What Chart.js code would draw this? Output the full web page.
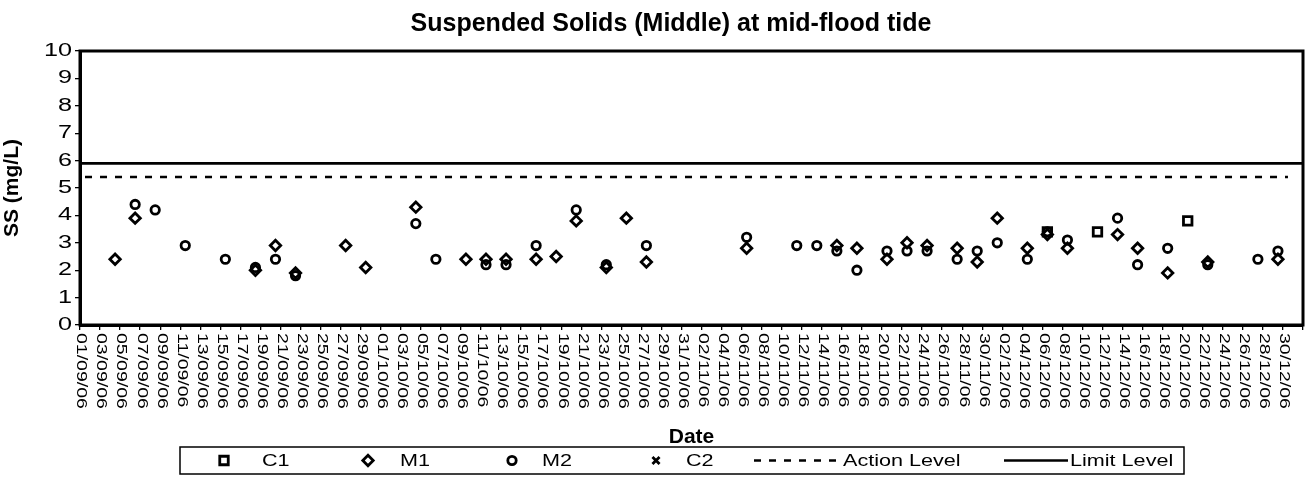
<!DOCTYPE html>
<html>
<head>
<meta charset="utf-8">
<title>Suspended Solids (Middle) at mid-flood tide</title>
<script src="https://cdn.jsdelivr.net/npm/chart.js@4.4.1/dist/chart.umd.min.js"></script>
<style>
    html, body { margin: 0; padding: 0; background: #fff; }
    #chart { display: block; }
</style>
</head>
<body>
<canvas id="chart" width="1314" height="500"></canvas>
<script>
"use strict";

var chartTitle = 'Suspended Solids (Middle) at mid-flood tide';

// sampling days, one reading per station (mg/L), null = no reading that day
var sampleDates = [
    '04/09/06', '06/09/06', '08/09/06', '11/09/06', '15/09/06', '18/09/06', '20/09/06', '22/09/06', '27/09/06', '29/09/06',
    '04/10/06', '06/10/06', '09/10/06', '11/10/06', '13/10/06', '16/10/06', '18/10/06', '20/10/06', '23/10/06', '25/10/06', '27/10/06',
    '06/11/06', '11/11/06', '13/11/06', '15/11/06', '17/11/06', '20/11/06', '22/11/06', '24/11/06', '27/11/06', '29/11/06',
    '01/12/06', '04/12/06', '06/12/06', '08/12/06', '11/12/06', '13/12/06', '15/12/06', '18/12/06', '20/12/06', '22/12/06', '27/12/06', '29/12/06'
];
var c1 = [
    null, null, null, null, null, null, null, null, null, null,
    null, null, null, null, null, null, null, null, null, null, null,
    null, null, null, null, null, null, null, null, null, null,
    null, null, 3.4, null, 3.4, null, null, null, 3.8, null, null, null
];
var m1 = [
    2.4, 3.9, null, null, null, 2.0, 2.9, 1.9, 2.9, 2.1,
    4.3, null, 2.4, 2.4, 2.4, 2.4, 2.5, 3.8, 2.1, 3.9, 2.3,
    2.8, null, null, 2.9, 2.8, 2.4, 3.0, 2.9, 2.8, 2.3,
    3.9, 2.8, 3.3, 2.8, null, 3.3, 2.8, 1.9, null, 2.3, null, 2.4
];
var m2 = [
    null, 4.4, 4.2, 2.9, 2.4, 2.1, 2.4, 1.8, null, null,
    3.7, 2.4, null, 2.2, 2.2, 2.9, null, 4.2, 2.2, null, 2.9,
    3.2, 2.9, 2.9, 2.7, 2.0, 2.7, 2.7, 2.7, 2.4, 2.7,
    3.0, 2.4, 3.4, 3.1, null, 3.9, 2.2, 2.8, null, 2.2, 2.4, 2.7
];
var c2 = [
    null, null, null, null, null, null, null, null, null, null,
    null, null, null, null, null, null, null, null, null, null, null,
    null, null, null, null, null, null, null, null, null, null,
    null, null, null, null, null, null, null, null, null, null, null, null
];
var actionLevel = 5.4;
var limitLevel = 5.9;

var tickLabels = [
    '01/09/06', '03/09/06', '05/09/06', '07/09/06', '09/09/06', '11/09/06', '13/09/06', '15/09/06',
    '17/09/06', '19/09/06', '21/09/06', '23/09/06', '25/09/06', '27/09/06', '29/09/06',
    '01/10/06', '03/10/06', '05/10/06', '07/10/06', '09/10/06', '11/10/06', '13/10/06', '15/10/06',
    '17/10/06', '19/10/06', '21/10/06', '23/10/06', '25/10/06', '27/10/06', '29/10/06', '31/10/06',
    '02/11/06', '04/11/06', '06/11/06', '08/11/06', '10/11/06', '12/11/06', '14/11/06', '16/11/06',
    '18/11/06', '20/11/06', '22/11/06', '24/11/06', '26/11/06', '28/11/06', '30/11/06',
    '02/12/06', '04/12/06', '06/12/06', '08/12/06', '10/12/06', '12/12/06', '14/12/06', '16/12/06',
    '18/12/06', '20/12/06', '22/12/06', '24/12/06', '26/12/06', '28/12/06', '30/12/06'
];
var axisEnd = '01/01/07';

var FONT = "'Liberation Sans', Arial, sans-serif";
var START = Date.UTC(2006, 8, 1);

function dayIndex(s) {
    var p = s.split('/');
    return (Date.UTC(2000 + Number(p[2]), Number(p[1]) - 1, Number(p[0])) - START) / 86400000;
}

// each reading sits in the middle of its day
function toPoints(values) {
    var pts = [];
    sampleDates.forEach(function (d, i) {
        if (values[i] !== null) pts.push({ x: dayIndex(d) + 0.5, y: values[i] });
    });
    return pts;
}

function markerSet(label, values, style, radius, order) {
    return {
        label: label,
        data: toPoints(values),
        showLine: false,
        pointStyle: style,
        pointRadius: radius,
        pointHoverRadius: radius,
        pointBorderWidth: 2.8,
        pointBorderColor: '#000',
        pointBackgroundColor: 'rgba(0,0,0,0)',
        borderColor: '#000',
        order: order
    };
}

function levelSet(label, level, from, to, dash) {
    return {
        label: label,
        data: [{ x: from, y: level }, { x: to, y: level }],
        showLine: true,
        borderColor: '#000',
        borderWidth: 2.6,
        borderDash: dash,
        pointRadius: 0,
        fill: false,
        order: 5
    };
}

function stretchText(ctx, text, x, y, sx, align, angle) {
    ctx.save();
    ctx.translate(x, y);
    if (angle) ctx.rotate(angle);
    ctx.scale(sx, 1);
    ctx.textAlign = align;
    ctx.fillText(text, 0, 0);
    ctx.restore();
}

function drawMarker(ctx, style, x, y, r) {
    ctx.beginPath();
    if (style === 'circle') {
        ctx.arc(x, y, r, 0, Math.PI * 2);
    } else if (style === 'rect') {
        var s = r * Math.SQRT1_2;
        ctx.rect(x - s, y - s, 2 * s, 2 * s);
    } else if (style === 'rectRot') {
        ctx.moveTo(x - r, y); ctx.lineTo(x, y - r); ctx.lineTo(x + r, y); ctx.lineTo(x, y + r); ctx.closePath();
    } else if (style === 'crossRot') {
        var c = r * Math.SQRT1_2;
        ctx.moveTo(x - c, y - c); ctx.lineTo(x + c, y + c);
        ctx.moveTo(x - c, y + c); ctx.lineTo(x + c, y - c);
    }
    ctx.stroke();
}

var legendBox = { left: 180, right: 1184, top: 447, bottom: 474 };
var legendLayout = [
    { mark: 224, text: 262 },
    { mark: 368, text: 400 },
    { mark: 512, text: 542 },
    { mark: 656, text: 686 },
    { from: 754, to: 839, text: 843 },
    { from: 1004, to: 1068, text: 1070 }
];

var decorations = {
    id: 'decorations',
    afterDraw: function (chart) {
        var ctx = chart.ctx;
        var area = chart.chartArea;
        var xs = chart.scales.x;
        var ys = chart.scales.y;
        ctx.save();

        ctx.strokeStyle = '#000';
        ctx.lineWidth = 3;
        ctx.strokeRect(area.left, area.top, area.right - area.left, area.bottom - area.top);

        ctx.fillStyle = '#000';
        ctx.textBaseline = 'middle';
        ctx.font = 'bold 25px ' + FONT;
        ctx.textAlign = 'center';
        ctx.fillText(chartTitle, 671, 24);

        ctx.font = '18px ' + FONT;
        ys.ticks.forEach(function (t) {
            stretchText(ctx, String(t.value), area.left - 8, ys.getPixelForValue(t.value), 1.4, 'right', 0);
        });

        ctx.font = '15px ' + FONT;
        tickLabels.forEach(function (lab) {
            var x = xs.getPixelForValue(dayIndex(lab)) + 1.5;
            stretchText(ctx, lab, x, area.bottom + 8, 1.3, 'left', Math.PI / 2);
        });

        // legend
        var mid = (legendBox.top + legendBox.bottom) / 2;
        ctx.lineWidth = 1.5;
        ctx.strokeRect(legendBox.left, legendBox.top, legendBox.right - legendBox.left, legendBox.bottom - legendBox.top);
        ctx.font = '16px ' + FONT;
        chart.data.datasets.forEach(function (ds, i) {
            var pos = legendLayout[i];
            ctx.save();
            if (ds.showLine) {
                ctx.lineWidth = ds.borderWidth;
                ctx.setLineDash(ds.borderDash || []);
                ctx.beginPath();
                ctx.moveTo(pos.from, mid);
                ctx.lineTo(pos.to, mid);
                ctx.stroke();
            } else {
                ctx.lineWidth = ds.pointBorderWidth;
                drawMarker(ctx, ds.pointStyle, pos.mark, mid, ds.pointRadius);
            }
            ctx.restore();
            stretchText(ctx, ds.label, pos.text, mid + 1, 1.35, 'left', 0);
        });

        ctx.restore();
    }
};

var ctx = document.getElementById('chart').getContext('2d');
var ssChart = new Chart(ctx, {
    type: 'scatter',
    data: {
        datasets: [
            markerSet('C1', c1, 'rect', 6, 3),
            markerSet('M1', m1, 'rectRot', 5.2, 2),
            markerSet('M2', m2, 'circle', 4.2, 1),
            markerSet('C2', c2, 'crossRot', 5, 0),
            levelSet('Action Level', actionLevel, dayIndex(tickLabels[0]) + 0.5, dayIndex(tickLabels[tickLabels.length - 1]) + 0.5, [7, 8]),
            levelSet('Limit Level', limitLevel, 0, dayIndex(axisEnd), [])
        ]
    },
    options: {
        responsive: false,
        animation: false,
        devicePixelRatio: 1,
        layout: { padding: { left: 0, right: 11, top: 51, bottom: 50 } },
        plugins: {
            legend: { display: false },
            title: { display: false },
            tooltip: { enabled: false }
        },
        scales: {
            x: {
                type: 'linear',
                position: 'bottom',
                min: dayIndex(tickLabels[0]),
                max: dayIndex(axisEnd),
                ticks: { display: false, stepSize: 2 },
                grid: { display: true, drawOnChartArea: false, drawTicks: true, tickLength: 5, color: '#000', lineWidth: 1.3 },
                border: { display: true, color: '#000', width: 3 },
                title: {
                    display: true, text: 'Date', color: '#000', padding: 0,
                    font: { family: FONT, size: 21, weight: 'bold' }
                },
                afterFit: function (scale) { scale.height = 125; }
            },
            y: {
                min: 0,
                max: 10,
                ticks: { display: false, stepSize: 1 },
                grid: { display: true, drawOnChartArea: false, drawTicks: true, tickLength: 5, color: '#000', lineWidth: 1.3 },
                border: { display: true, color: '#000', width: 3 },
                title: {
                    display: true, text: 'SS (mg/L)', color: '#000', padding: 0,
                    font: { family: FONT, size: 21, weight: 'bold' }
                },
                afterFit: function (scale) { scale.width = 80; }
            }
        }
    },
    plugins: [decorations]
});
</script>
</body>
</html>
